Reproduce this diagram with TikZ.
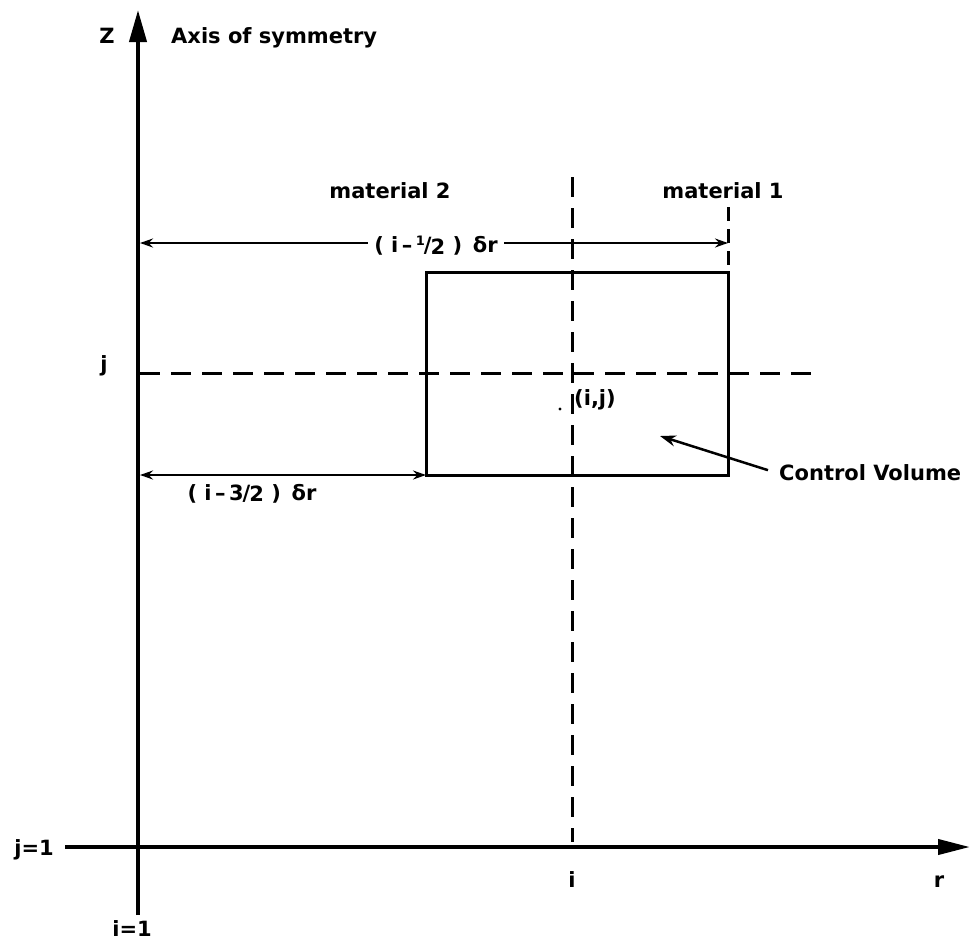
\documentclass[tikz,border=0pt]{standalone}
\usepackage{fontspec}
\setmainfont{DejaVu Sans}
\usetikzlibrary{arrows.meta}
\begin{document}
\begin{tikzpicture}[x=1pt,y=-1pt,
  lbl/.style={font=\fontsize{21}{24}\selectfont\bfseries, inner sep=1pt},
  axisline/.style={line width=4pt},
  dashline/.style={line width=3pt, dash pattern=on 20pt off 11pt},
  dimarrow/.style={line width=2.5pt, {Stealth[length=13pt,width=9pt]}-{Stealth[length=13pt,width=9pt]}},
  pointer/.style={line width=2.5pt, -{Stealth[length=16pt,width=11pt]}}
]
\useasboundingbox (0,0) rectangle (972,948);
% axes
\coordinate (ztip) at (138,10);
\coordinate (zbot) at (138,915);
\coordinate (rleft) at (65,847);
\coordinate (rtip) at (970,847);
\draw[axisline, -{Triangle[length=32pt,width=17pt]}] (zbot) -- (ztip);
\draw[axisline, -{Triangle[length=32pt,width=15pt]}] (rleft) -- (rtip);
% control volume
\node[draw, line width=3pt, minimum width=302pt, minimum height=203pt, inner sep=0pt, outer sep=0pt] (cv) at (577,373.5) {};
% dashed grid lines
\coordinate (itop) at (572,177);
\coordinate (ibot) at (572,842);
\draw[dashline] (itop) -- (ibot);
\coordinate (jl) at (140,373);
\coordinate (jr) at (822,373);
\draw[dashline] (jl) -- (jr);
\coordinate (tk) at (728,207);
\draw[dashline, dash pattern=on 14pt off 8pt] (tk) -- (cv.north east);
% dimension arrows
\coordinate (d1l) at (140,243);
\coordinate (d1r) at (728,243);
\draw[dimarrow] (d1l) -- (d1r);
\node[lbl, fill=white, anchor=base, inner xsep=6pt] (d1lab) at (436,252) {( i\,--\,\raisebox{0.32em}{\fontsize{13}{13}\selectfont 1}\kern-1pt/\kern-1pt\raisebox{-0.1em}{2} )\, δr};
\coordinate (d2l) at (140,475);
\draw[dimarrow] (d2l) -- (cv.south west);
\node[lbl, anchor=base] (d2lab) at (252,500) {( i\,--\,3\kern-1pt/\kern-1pt\raisebox{-0.08em}{2} )\, δr};
% labels
\node[lbl, anchor=base] (zlab) at (107,43) {Z};
\node[lbl, anchor=base west] (axlab) at (170,43) {Axis of symmetry};
\node[lbl, anchor=base] (m2) at (390,198) {material 2};
\node[lbl, anchor=base] (m1) at (723,198) {material 1};
\node[lbl, anchor=base] (jlab) at (104,371) {j};
\node[lbl, anchor=base west] (ijlab) at (573,405) {(i,j)};
\fill (560,409) circle (1.6pt);
\node[lbl, anchor=base west] (cvlab) at (778,480) {Control\ Volume};
\coordinate (cvtip) at (660,436);
\draw[pointer] ([xshift=-10pt,yshift=2pt]cvlab.west) -- (cvtip);
\node[lbl, anchor=base] (j1) at (34,855) {j=1};
\node[lbl, anchor=base] (ilab) at (572,887) {i};
\node[lbl, anchor=base] (rlab) at (939,887) {r};
\node[lbl, anchor=base] (i1) at (132,936) {i=1};
\end{tikzpicture}
\end{document}
